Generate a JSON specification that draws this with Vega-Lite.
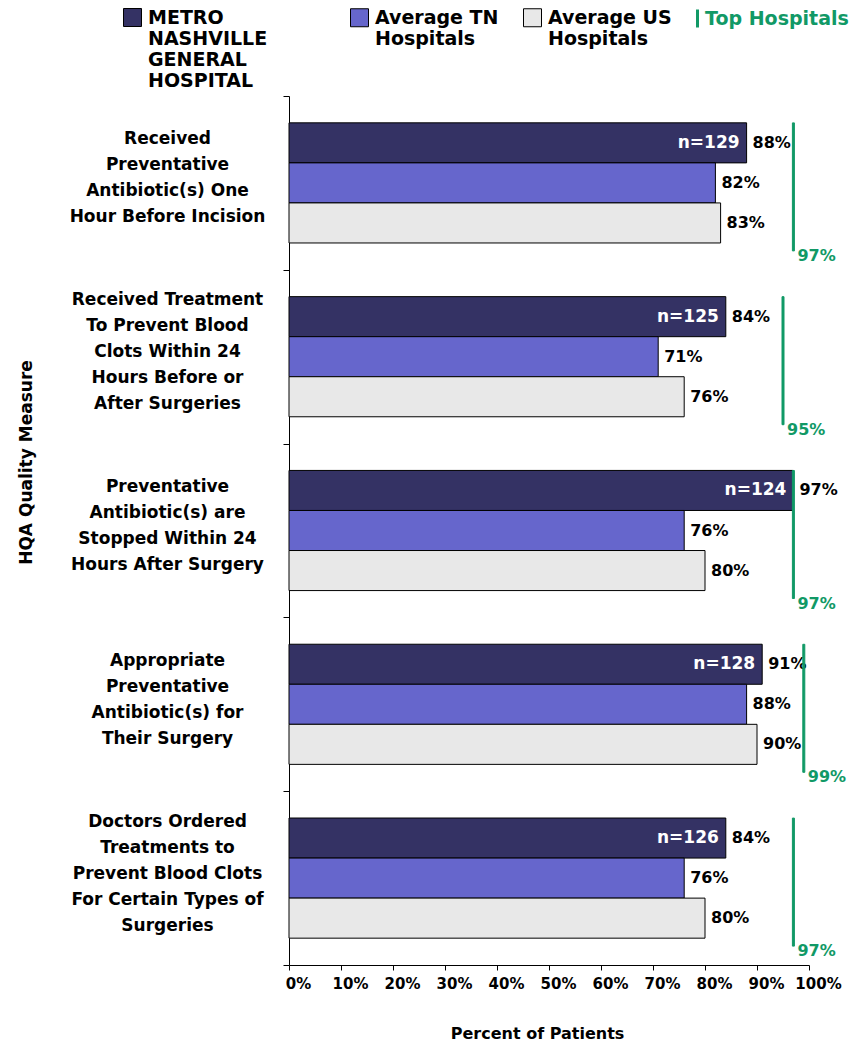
{
  "$schema": "https://vega.github.io/schema/vega-lite/v6.json",
  "width": 520,
  "height": 869,
  "autosize": {"type": "none"},
  "padding": {"left": 289, "top": 96, "right": 47, "bottom": 83},
  "background": "white",
  "config": {
    "view": {"stroke": null},
    "font": "DejaVu Sans",
    "axis": {"grid": false, "domainColor": "black", "tickColor": "black", "labelColor": "black", "titleColor": "black", "labelFont": "DejaVu Sans", "titleFont": "DejaVu Sans"},
    "legend": {"title": null, "orient": "none", "direction": "horizontal", "padding": 0, "symbolType": "square", "symbolSize": 324, "symbolStrokeColor": "black", "symbolStrokeWidth": 1, "symbolOpacity": 1, "labelFontSize": 19, "labelFontWeight": "bold", "labelFont": "DejaVu Sans", "labelColor": "black", "labelLimit": 400, "labelOffset": 6, "labelBaseline": "top"}
  },
  "datasets": {
    "measures": [
      {"measure": "Received|Preventative|Antibiotic(s) One|Hour Before Incision", "series": "METRO|NASHVILLE|GENERAL|HOSPITAL", "value": 0.88, "n": "n=129"},
      {"measure": "Received|Preventative|Antibiotic(s) One|Hour Before Incision", "series": "Average TN|Hospitals", "value": 0.82},
      {"measure": "Received|Preventative|Antibiotic(s) One|Hour Before Incision", "series": "Average US|Hospitals", "value": 0.83},
      {"measure": "Received Treatment|To Prevent Blood|Clots Within 24|Hours Before or|After Surgeries", "series": "METRO|NASHVILLE|GENERAL|HOSPITAL", "value": 0.84, "n": "n=125"},
      {"measure": "Received Treatment|To Prevent Blood|Clots Within 24|Hours Before or|After Surgeries", "series": "Average TN|Hospitals", "value": 0.71},
      {"measure": "Received Treatment|To Prevent Blood|Clots Within 24|Hours Before or|After Surgeries", "series": "Average US|Hospitals", "value": 0.76},
      {"measure": "Preventative|Antibiotic(s) are|Stopped Within 24|Hours After Surgery", "series": "METRO|NASHVILLE|GENERAL|HOSPITAL", "value": 0.97, "n": "n=124"},
      {"measure": "Preventative|Antibiotic(s) are|Stopped Within 24|Hours After Surgery", "series": "Average TN|Hospitals", "value": 0.76},
      {"measure": "Preventative|Antibiotic(s) are|Stopped Within 24|Hours After Surgery", "series": "Average US|Hospitals", "value": 0.80},
      {"measure": "Appropriate|Preventative|Antibiotic(s) for|Their Surgery", "series": "METRO|NASHVILLE|GENERAL|HOSPITAL", "value": 0.91, "n": "n=128"},
      {"measure": "Appropriate|Preventative|Antibiotic(s) for|Their Surgery", "series": "Average TN|Hospitals", "value": 0.88},
      {"measure": "Appropriate|Preventative|Antibiotic(s) for|Their Surgery", "series": "Average US|Hospitals", "value": 0.90},
      {"measure": "Doctors Ordered|Treatments to|Prevent Blood Clots|For Certain Types of|Surgeries", "series": "METRO|NASHVILLE|GENERAL|HOSPITAL", "value": 0.84, "n": "n=126"},
      {"measure": "Doctors Ordered|Treatments to|Prevent Blood Clots|For Certain Types of|Surgeries", "series": "Average TN|Hospitals", "value": 0.76},
      {"measure": "Doctors Ordered|Treatments to|Prevent Blood Clots|For Certain Types of|Surgeries", "series": "Average US|Hospitals", "value": 0.80}
    ],
    "top": [
      {"measure": "Received|Preventative|Antibiotic(s) One|Hour Before Incision", "top": 0.97},
      {"measure": "Received Treatment|To Prevent Blood|Clots Within 24|Hours Before or|After Surgeries", "top": 0.95},
      {"measure": "Preventative|Antibiotic(s) are|Stopped Within 24|Hours After Surgery", "top": 0.97},
      {"measure": "Appropriate|Preventative|Antibiotic(s) for|Their Surgery", "top": 0.99},
      {"measure": "Doctors Ordered|Treatments to|Prevent Blood Clots|For Certain Types of|Surgeries", "top": 0.97}
    ]
  },
  "resolve": {"scale": {"fill": "independent"}, "legend": {"fill": "independent"}},
  "layer": [
    {
      "data": {"name": "measures"},
      "transform": [{"filter": {"field": "series", "equal": "METRO|NASHVILLE|GENERAL|HOSPITAL"}}],
      "mark": {"type": "bar", "stroke": "black", "strokeWidth": 1, "opacity": 1},
      "encoding": {
        "y": {
          "field": "measure", "type": "nominal", "title": "HQA Quality Measure",
          "scale": {"domain": [
            "Received|Preventative|Antibiotic(s) One|Hour Before Incision",
            "Received Treatment|To Prevent Blood|Clots Within 24|Hours Before or|After Surgeries",
            "Preventative|Antibiotic(s) are|Stopped Within 24|Hours After Surgery",
            "Appropriate|Preventative|Antibiotic(s) for|Their Surgery",
            "Doctors Ordered|Treatments to|Prevent Blood Clots|For Certain Types of|Surgeries"
          ], "paddingInner": 0, "paddingOuter": 0},
          "axis": {
            "tickBand": "extent", "tickSize": 6, "labelAlign": "center", "labelBaseline": "middle",
            "labelPadding": 116, "labelFontSize": 17, "labelFontWeight": "bold", "labelLineHeight": 26,
            "labelLimit": 300, "labelExpr": "split(datum.label, '|')",
            "labelOffset": {"condition": {"test": "length(split(datum.label, '|')) == 5", "value": -57}, "value": -44},
            "titleFontSize": 17, "titleFontWeight": "bold", "titleX": -263, "titleY": 366, "titleBaseline": "middle", "titleAngle": -90
          }
        },
        "yOffset": {
          "field": "series", "type": "nominal",
          "scale": {"domain": ["METRO|NASHVILLE|GENERAL|HOSPITAL", "Average TN|Hospitals", "Average US|Hospitals"], "paddingInner": 0, "paddingOuter": 0.67}
        },
        "x": {
          "field": "value", "type": "quantitative", "title": "Percent of Patients",
          "scale": {"domain": [0, 1], "nice": false},
          "axis": {
            "values": [0, 0.1, 0.2, 0.3, 0.4, 0.5, 0.6, 0.7, 0.8, 0.9, 1], "format": ".0%",
            "labelAlign": "center", "labelOffset": 9, "labelBaseline": "top", "labelPadding": 6, "tickSize": 5,
            "labelFontSize": 15, "labelFontWeight": "bold", "labelFlush": false, "labelOverlap": false,
            "titleFontSize": 16, "titleFontWeight": "bold", "titleX": 248, "titleY": 68, "titleBaseline": "middle"
          }
        },
        "fill": {
          "field": "series", "type": "nominal",
          "scale": {"domain": ["METRO|NASHVILLE|GENERAL|HOSPITAL"], "range": ["#343264"]},
          "legend": {
            "legendX": -166, "legendY": -88,
            "labelExpr": "split(datum.label, '|')",
            "encode": {"labels": {"update": {"dy": {"value": -9}}}}
          }
        }
      }
    },
    {
      "data": {"name": "measures"},
      "transform": [{"filter": {"field": "series", "oneOf": ["Average TN|Hospitals", "Average US|Hospitals"]}}],
      "mark": {"type": "bar", "stroke": "black", "strokeWidth": 1, "opacity": 1},
      "encoding": {
        "y": {"field": "measure", "type": "nominal"},
        "yOffset": {"field": "series", "type": "nominal"},
        "x": {"field": "value", "type": "quantitative"},
        "fill": {
          "field": "series", "type": "nominal",
          "scale": {"domain": ["Average TN|Hospitals", "Average US|Hospitals"], "range": ["#6666cc", "#e8e8e8"]},
          "legend": {
            "legendX": 61, "legendY": -88, "columnPadding": 22,
            "labelExpr": "split(datum.label, '|')",
            "encode": {"labels": {"update": {"dy": {"value": -9}}}}
          }
        }
      }
    },
    {
      "data": {"name": "measures"},
      "mark": {"type": "text", "align": "left", "baseline": "middle", "dx": 6, "fontSize": 16, "fontWeight": "bold", "font": "DejaVu Sans", "color": "black"},
      "encoding": {
        "y": {"field": "measure", "type": "nominal"},
        "yOffset": {"field": "series", "type": "nominal"},
        "x": {"field": "value", "type": "quantitative"},
        "text": {"field": "value", "type": "quantitative", "format": ".0%"}
      }
    },
    {
      "data": {"name": "measures"},
      "transform": [{"filter": {"field": "series", "equal": "METRO|NASHVILLE|GENERAL|HOSPITAL"}}],
      "mark": {"type": "text", "align": "right", "baseline": "middle", "dx": -7, "fontSize": 17, "fontWeight": "bold", "font": "DejaVu Sans", "color": "white"},
      "encoding": {
        "y": {"field": "measure", "type": "nominal"},
        "yOffset": {"field": "series", "type": "nominal"},
        "x": {"field": "value", "type": "quantitative"},
        "text": {"field": "n", "type": "nominal"}
      }
    },
    {
      "data": {"name": "top"},
      "mark": {"type": "tick", "orient": "vertical", "size": 128, "thickness": 2, "yOffset": 4, "fill": "#119966", "strokeWidth": 1, "opacity": 1},
      "encoding": {
        "y": {"field": "measure", "type": "nominal"},
        "x": {"field": "top", "type": "quantitative"},
        "stroke": {
          "datum": "Top Hospitals", "type": "nominal",
          "scale": {"range": ["#119966"]},
          "legend": {
            "legendX": 398, "legendY": -88,
            "symbolType": "M0,-1L0,1", "symbolSize": 324, "symbolStrokeWidth": 3, "symbolStrokeColor": "#119966",
            "labelColor": "#119966", "labelBaseline": "middle", "labelOffset": -3
          }
        }
      }
    },
    {
      "data": {"name": "top"},
      "mark": {"type": "text", "align": "left", "baseline": "middle", "dx": 4, "dy": 73, "fontSize": 16, "fontWeight": "bold", "font": "DejaVu Sans", "color": "#119966"},
      "encoding": {
        "y": {"field": "measure", "type": "nominal"},
        "x": {"field": "top", "type": "quantitative"},
        "text": {"field": "top", "type": "quantitative", "format": ".0%"}
      }
    }
  ]
}
